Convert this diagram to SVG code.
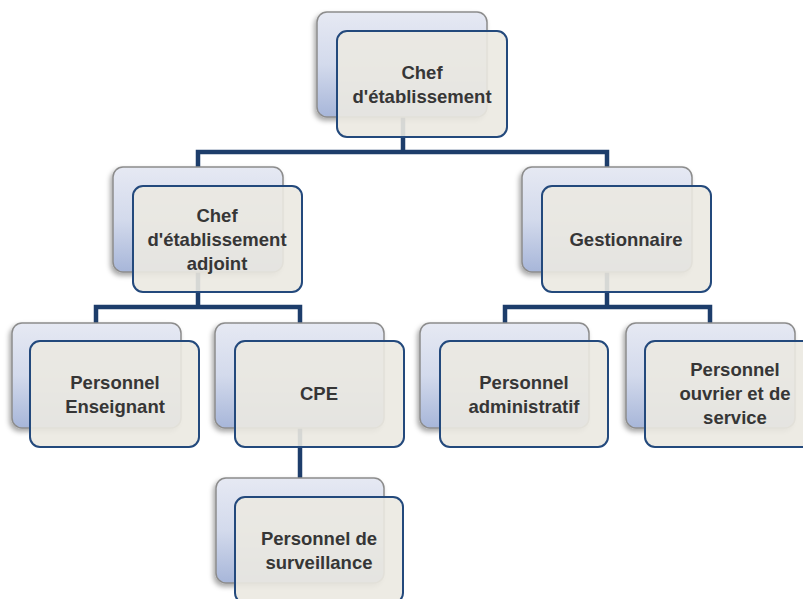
<svg xmlns="http://www.w3.org/2000/svg" width="803" height="599" viewBox="0 0 803 599">
<defs>
<linearGradient id="bg" x1="0" y1="0" x2="0" y2="1">
<stop offset="0" stop-color="#e6e9f3"/>
<stop offset="0.5" stop-color="#d3daec"/>
<stop offset="1" stop-color="#a7b6d9"/>
</linearGradient>
<filter id="sh" x="-20%" y="-20%" width="140%" height="140%">
<feDropShadow dx="-2" dy="3" stdDeviation="2.5" flood-color="#000" flood-opacity="0.35"/>
</filter>
</defs>
<style>
.back{fill:url(#bg);stroke:#8c8c8c;stroke-width:1.5;filter:url(#sh)}
.front{fill:#ebe9e1;fill-opacity:0.9;stroke:#23497c;stroke-width:2}
.conn{fill:none;stroke:#1d3d6b;stroke-width:4.5;stroke-linejoin:miter}
.t{font-family:"Liberation Sans",Arial,sans-serif;font-weight:bold;font-size:18.5px;fill:#363636;text-anchor:middle}
</style>
<rect width="803" height="599" fill="#ffffff"/>
<g id="connectors">
<path class="conn" d="M403,117 V152 M198,167 V152 H607 V167"/>
<path class="conn" d="M198,271 V307 M96,323 V307 H300 V323"/>
<path class="conn" d="M607,271 V307 M505,323 V307 H710 V323"/>
<path class="conn" d="M300,428 V478"/>
</g>
<g id="n1">
<rect class="back" x="317" y="12" width="170" height="105" rx="10"/>
<rect class="front" x="337" y="31" width="170" height="106" rx="10"/>
<text class="t" x="422" y="79">Chef</text>
<text class="t" x="422" y="103">d'établissement</text>
</g>
<g id="n2">
<rect class="back" x="113" y="167" width="170" height="105" rx="10"/>
<rect class="front" x="133" y="186" width="169" height="106" rx="10"/>
<text class="t" x="217" y="222">Chef</text>
<text class="t" x="217" y="246">d'établissement</text>
<text class="t" x="217" y="270">adjoint</text>
</g>
<g id="n3">
<rect class="back" x="522" y="167" width="170" height="105" rx="10"/>
<rect class="front" x="542" y="186" width="169" height="106" rx="10"/>
<text class="t" x="626" y="246">Gestionnaire</text>
</g>
<g id="n4">
<rect class="back" x="12" y="323" width="169" height="105" rx="10"/>
<rect class="front" x="30" y="341" width="169" height="106" rx="10"/>
<text class="t" x="115" y="389">Personnel</text>
<text class="t" x="115" y="413">Enseignant</text>
</g>
<g id="n5">
<rect class="back" x="215" y="323" width="169" height="105" rx="10"/>
<rect class="front" x="235" y="341" width="169" height="106" rx="10"/>
<text class="t" x="319" y="400">CPE</text>
</g>
<g id="n6">
<rect class="back" x="420" y="323" width="169" height="105" rx="10"/>
<rect class="front" x="440" y="341" width="168" height="106" rx="10"/>
<text class="t" x="524" y="389">Personnel</text>
<text class="t" x="524" y="413">administratif</text>
</g>
<g id="n7">
<rect class="back" x="626" y="323" width="169" height="105" rx="10"/>
<rect class="front" x="645" y="341" width="169" height="106" rx="10"/>
<text class="t" x="735" y="376">Personnel</text>
<text class="t" x="735" y="400">ouvrier et de</text>
<text class="t" x="735" y="424">service</text>
</g>
<g id="n8">
<rect class="back" x="216" y="478" width="168" height="105" rx="10"/>
<rect class="front" x="235" y="497" width="168" height="106" rx="10"/>
<text class="t" x="319" y="545">Personnel de</text>
<text class="t" x="319" y="569">surveillance</text>
</g>
</svg>
